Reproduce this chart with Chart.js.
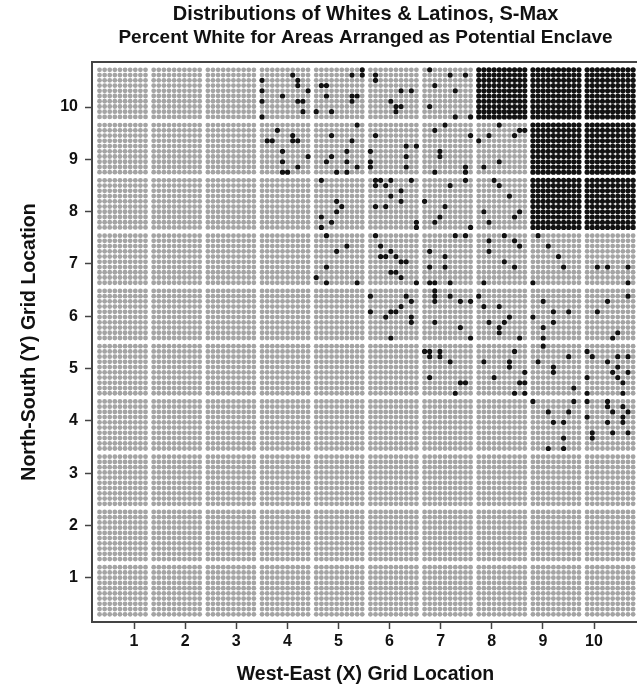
<!DOCTYPE html>
<html>
<head>
<meta charset="utf-8">
<script src="https://cdn.jsdelivr.net/npm/chart.js@4.4.0/dist/chart.umd.min.js"></script>
<style>
  html, body { margin: 0; padding: 0; background: #fff; overflow: hidden; }
  #wrap { width: 637px; height: 686px; overflow: hidden; }
</style>
</head>
<body>
<div id="wrap"><canvas id="gridChart" width="648" height="686"></canvas></div>
<script>
// tick labels
const xTicks = [1, 2, 3, 4, 5, 6, 7, 8, 9, 10];
const yTicks = [1, 2, 3, 4, 5, 6, 7, 8, 9, 10];

// areas that are all White (cellX, cellY)
const fullWhiteCells = [[8, 10], [9, 10], [10, 10], [9, 9], [10, 9], [9, 8], [10, 8]];

// single White dots in mixed areas: [cellX, dotCol (0 = left), dotRow (0 = top)]
const whitesRow10 = [
  [4,0,2],[4,6,1],[4,7,2],[4,7,3],[4,0,4],[4,9,4],[4,4,5],[4,0,6],[4,7,6],[4,8,6],[4,8,8],[4,0,9],
  [5,9,0],[5,9,1],[5,7,1],[5,1,3],[5,2,3],[5,2,5],[5,7,5],[5,8,5],[5,7,6],[5,0,8],[5,3,8],
  [6,1,1],[6,1,2],[6,6,4],[6,8,4],[6,4,6],[6,5,7],[6,6,7],[6,5,8],
  [7,1,0],[7,5,1],[7,8,1],[7,2,3],[7,6,4],[7,1,7],[7,6,9],[7,9,9]
];
const whitesRow9 = [
  [4,3,1],[4,6,2],[4,1,3],[4,2,3],[4,6,3],[4,7,3],[4,4,5],[4,9,6],[4,4,7],[4,7,8],[4,4,9],[4,5,9],
  [5,8,0],[5,3,2],[5,7,3],[5,6,5],[5,3,6],[5,2,7],[5,6,7],[5,8,8],[5,4,9],[5,6,9],
  [6,1,2],[6,0,5],[6,0,7],[6,0,8],[6,7,4],[6,9,4],[6,7,6],[6,7,8],
  [7,4,0],[7,2,1],[7,9,2],[7,3,5],[7,3,6],[7,2,9],[7,8,8],[7,8,9],
  [8,4,0],[8,8,1],[8,9,1],[8,2,2],[8,7,2],[8,0,3],[8,4,7],[8,1,8]
];
const whitesRow8 = [
  [5,1,0],[5,4,4],[5,5,5],[5,4,6],[5,1,7],[5,3,8],[5,1,9],
  [6,1,0],[6,2,0],[6,4,0],[6,8,0],[6,1,1],[6,3,1],[6,6,2],[6,4,3],[6,6,4],[6,1,5],[6,3,5],[6,9,8],[6,9,9],
  [7,8,0],[7,5,1],[7,0,4],[7,4,5],[7,3,7],[7,2,8],[7,9,9],
  [8,3,0],[8,4,1],[8,6,3],[8,1,6],[8,8,6],[8,7,7],[8,2,8]
];
const whitesRow7 = [
  [5,2,0],[5,6,2],[5,4,3],[5,2,6],[5,0,8],[5,2,9],[5,8,9],
  [6,1,0],[6,2,2],[6,4,3],[6,2,4],[6,3,4],[6,5,4],[6,6,5],[6,7,5],[6,4,7],[6,5,7],[6,6,8],[6,9,9],
  [7,6,0],[7,8,0],[7,1,3],[7,4,4],[7,1,6],[7,4,6],[7,1,9],[7,2,9],[7,5,9],
  [8,5,0],[8,2,1],[8,7,1],[8,8,2],[8,2,3],[8,5,5],[8,7,6],[8,1,9],
  [9,1,0],[9,3,2],[9,5,4],[9,6,6],[9,0,9],
  [10,2,6],[10,4,6],[10,8,6],[10,8,9]
];
const whitesRow6 = [
  [6,0,1],[6,7,1],[6,8,2],[6,6,3],[6,0,4],[6,4,4],[6,5,4],[6,3,5],[6,8,5],[6,8,6],[6,4,9],
  [7,2,0],[7,2,1],[7,2,2],[7,5,1],[7,7,2],[7,9,2],[7,2,6],[7,7,7],[7,9,9],
  [8,0,1],[8,1,3],[8,4,3],[8,6,5],[8,2,6],[8,5,6],[8,4,7],[8,4,8],[8,8,9],
  [9,0,5],[9,2,2],[9,4,4],[9,7,4],[9,4,6],[9,2,7],[9,2,9],
  [10,8,1],[10,4,2],[10,2,4],[10,6,8],[10,5,9]
];
const whitesRow5 = [
  [7,0,1],[7,1,1],[7,3,1],[7,1,2],[7,3,2],[7,5,3],[7,1,6],[7,7,7],[7,8,7],[7,6,9],
  [8,7,1],[8,1,3],[8,6,3],[8,6,4],[8,9,5],[8,3,6],[8,8,7],[8,9,7],[8,7,9],[8,9,9],
  [9,2,0],[9,1,3],[9,7,2],[9,4,4],[9,4,5],[9,8,8],
  [10,0,1],[10,1,2],[10,4,3],[10,6,2],[10,8,2],[10,6,4],[10,5,5],[10,8,5],[10,6,6],[10,0,6],[10,7,7],[10,0,9],[10,7,9]
];
const whitesRow4 = [
  [9,0,0],[9,8,0],[9,3,2],[9,7,2],[9,4,4],[9,6,4],[9,6,7],[9,3,9],[9,6,9],
  [10,0,0],[10,4,0],[10,4,1],[10,0,3],[10,5,2],[10,7,1],[10,7,3],[10,4,4],[10,7,4],[10,8,2],[10,1,6],[10,1,7],[10,5,6],[10,8,6]
];

const mixedRows = { 10: whitesRow10, 9: whitesRow9, 8: whitesRow8, 7: whitesRow7, 6: whitesRow6, 5: whitesRow5, 4: whitesRow4 };

// where the 10x10 dots of an area sit in grid units
const CELL_X = 1.06, CELL_Y = 1.056, DOT = 0.1, X0 = 0.325, YTOP = 10.71;
function dotPos(cx, cy, i, j) {
  return { x: X0 + (cx - 1) * CELL_X + i * DOT, y: YTOP - (10 - cy) * CELL_Y - j * DOT };
}

const isWhite = {};
fullWhiteCells.forEach(([cx, cy]) => {
  for (let i = 0; i < 10; i++) for (let j = 0; j < 10; j++) isWhite[cx + "," + cy + "," + i + "," + j] = true;
});
Object.keys(mixedRows).forEach(cy => {
  mixedRows[cy].forEach(([cx, i, j]) => { isWhite[cx + "," + cy + "," + i + "," + j] = true; });
});

const latinoPts = [], whitePts = [];
for (let cx = 1; cx <= 10; cx++) {
  for (let cy = 1; cy <= 10; cy++) {
    for (let i = 0; i < 10; i++) {
      for (let j = 0; j < 10; j++) {
        const p = dotPos(cx, cy, i, j);
        if (isWhite[cx + "," + cy + "," + i + "," + j]) whitePts.push(p);
        else latinoPts.push(p);
      }
    }
  }
}

const framePlugin = {
  id: "frame",
  afterDraw(chart) {
    const { ctx, chartArea: a } = chart;
    ctx.save();
    ctx.strokeStyle = "#444";
    ctx.lineWidth = 2;
    ctx.strokeRect(a.left, a.top, a.right - a.left, a.bottom - a.top);
    ctx.restore();
  }
};

const FONT = "Liberation Sans, Arial, sans-serif";

const ctx = document.getElementById("gridChart").getContext("2d");
new Chart(ctx, {
  type: "scatter",
  data: {
    datasets: [
      { label: "Latino", data: latinoPts, backgroundColor: "#a4a4a4", borderWidth: 0, pointRadius: 2.4 },
      { label: "White", data: whitePts, backgroundColor: "#111111", borderWidth: 0, pointRadius: 2.6 }
    ]
  },
  options: {
    responsive: false,
    animation: false,
    events: [],
    layout: { padding: { left: 0, right: 9, top: 0, bottom: 0 } },
    plugins: {
      legend: { display: false },
      tooltip: { enabled: false },
      title: {
        display: true,
        fullSize: false,
        text: "Distributions of Whites & Latinos, S-Max",
        color: "#111",
        font: { family: FONT, size: 20, weight: "bold" },
        padding: { top: 2, bottom: 0 }
      },
      subtitle: {
        display: true,
        fullSize: false,
        text: "Percent White for Areas Arranged as Potential Enclave",
        color: "#111",
        font: { family: FONT, size: 19, weight: "bold" },
        padding: { top: 0.6, bottom: 12.6 }
      }
    },
    scales: {
      x: {
        type: "linear",
        min: 0.178,
        max: 10.88,
        afterFit(scale) { scale.height = 64; },
        afterBuildTicks(scale) { scale.ticks = xTicks.map(v => ({ value: v })); },
        grid: { drawOnChartArea: false, tickLength: 7, tickColor: "#444", tickWidth: 1.5 },
        border: { display: false },
        ticks: {
          color: "#111",
          padding: 3,
          font: { family: FONT, size: 16, weight: "bold" }
        },
        title: {
          display: true,
          text: "West-East (X) Grid Location",
          color: "#111",
          font: { family: FONT, size: 19.5, weight: "bold" },
          padding: { top: 0, bottom: 0 }
        }
      },
      y: {
        type: "linear",
        min: 0.159,
        max: 10.86,
        afterFit(scale) { scale.width = 92; },
        afterBuildTicks(scale) { scale.ticks = yTicks.map(v => ({ value: v })); },
        grid: { drawOnChartArea: false, tickLength: 7, tickColor: "#444", tickWidth: 1.5 },
        border: { display: false },
        ticks: {
          color: "#111",
          padding: 7,
          font: { family: FONT, size: 16, weight: "bold" }
        },
        title: {
          display: true,
          text: "North-South (Y) Grid Location",
          color: "#111",
          font: { family: FONT, size: 19.5, weight: "bold" },
          padding: { top: 18, bottom: 0 }
        }
      }
    }
  },
  plugins: [framePlugin]
});
</script>
</body>
</html>
